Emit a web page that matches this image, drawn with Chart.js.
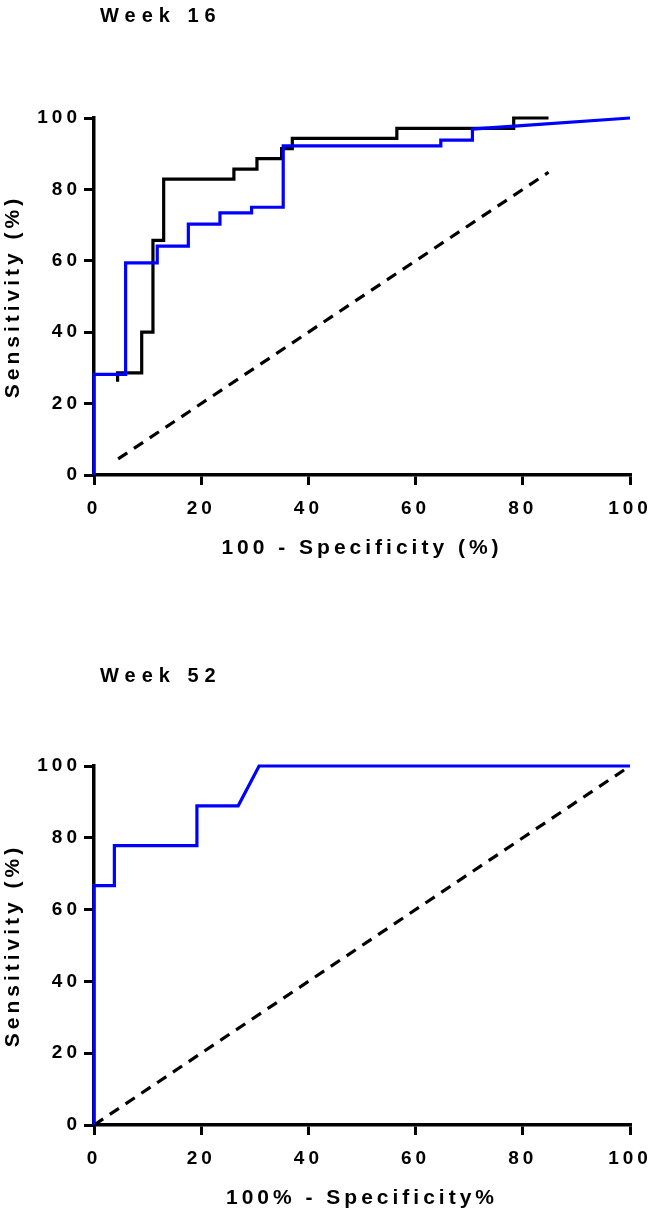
<!DOCTYPE html>
<html>
<head>
<meta charset="utf-8">
<script src="https://cdn.jsdelivr.net/npm/chart.js@4.4.1/dist/chart.umd.min.js"></script>
<style>
  html, body { margin: 0; padding: 0; background: #ffffff; }
  .wrap { position: absolute; left: 0; width: 655px; height: 607px; }
  canvas { display: block; }
</style>
</head>
<body>
<div class="wrap" style="top:0"><canvas id="c1" width="655" height="607"></canvas></div>
<div class="wrap" style="top:607px"><canvas id="c2" width="655" height="607"></canvas></div>
<script>
// ---- Data ----
const titles = ["Week 16", "Week 52"];
const xTitles = ["100 - Specificity (%)", "100% - Specificity%"];
const yTitle = "Sensitivity (%)";
const tickValues = [0, 20, 40, 60, 80, 100];

// Week 16 — black ROC curve (corner points)
const w16BlackX = [4.4, 4.4, 8.9, 8.9, 11.0, 11.0, 13.0, 13.0, 26.1, 26.1, 30.4, 30.4, 35.0, 35.0, 37.0, 37.0, 56.5, 56.5, 78.3, 78.3, 84.8];
const w16BlackY = [26.1, 28.6, 28.6, 40.0, 40.0, 65.7, 65.7, 82.9, 82.9, 85.7, 85.7, 88.6, 88.6, 91.4, 91.4, 94.3, 94.3, 97.1, 97.1, 100, 100];
// Week 16 — blue ROC curve
const w16BlueX = [0, 0, 5.9, 5.9, 11.8, 11.8, 17.6, 17.6, 23.5, 23.5, 29.4, 29.4, 35.3, 35.3, 64.7, 64.7, 70.6, 70.6, 100];
const w16BlueY = [0, 28.2, 28.2, 59.4, 59.4, 64.1, 64.1, 70.3, 70.3, 73.4, 73.4, 75.0, 75.0, 92.2, 92.2, 93.8, 93.8, 96.9, 100];
// Week 16 — reference diagonal
const w16DiagX = [4.5, 84.8];
const w16DiagY = [4.5, 84.8];

// Week 52 — blue ROC curve
const w52BlueX = [0, 0, 3.8, 3.8, 19.2, 19.2, 26.9, 30.8, 100];
const w52BlueY = [0, 66.7, 66.7, 77.8, 77.8, 88.9, 88.9, 100, 100];
// Week 52 — reference diagonal
const w52DiagX = [0, 100];
const w52DiagY = [0, 100];

const FONT = "'Liberation Sans', Arial, 'DejaVu Sans', sans-serif";

function pts(xs, ys) { return xs.map((x, i) => ({ x: x, y: ys[i] })); }

function spacingPlugin(title) {
  return {
    id: 'spacingTitle',
    beforeDraw(chart) { chart.ctx.letterSpacing = '4px'; },
    afterDraw(chart) {
      const ctx = chart.ctx;
      ctx.save();
      ctx.letterSpacing = '6px';
      ctx.font = "bold 20px " + FONT;
      ctx.fillStyle = '#000';
      ctx.textAlign = 'left';
      ctx.textBaseline = 'middle';
      ctx.fillText(title.text, title.x, title.y);
      ctx.restore();
    }
  };
}

function makeChart(id, datasets, cfg) {
  const black = '#000000';
  new Chart(document.getElementById(id), {
    type: 'scatter',
    data: { datasets: datasets },
    options: {
      responsive: false,
      animation: false,
      devicePixelRatio: 1,
      layout: { padding: { top: cfg.top, right: 25, left: 0, bottom: 0 } },
      plugins: { legend: { display: false }, tooltip: { enabled: false } },
      elements: { point: { radius: 0 } },
      scales: {
        x: {
          type: 'linear', min: 0, max: 100,
          afterBuildTicks(s) { s.ticks = tickValues.map(v => ({ value: v })); },
          afterFit(s) { s.height = cfg.xh; s.paddingLeft = 0; s.paddingRight = 0; },
          border: { display: true, color: black, width: 3.5 },
          grid: { display: true, drawOnChartArea: false, drawTicks: true, tickLength: 10, tickWidth: 3, tickColor: black, lineWidth: 3, color: black },
          ticks: { color: black, padding: 12, font: { family: FONT, size: 19, weight: 'bold' }, maxRotation: 0 },
          title: { display: true, text: cfg.xTitle, color: black, font: { family: FONT, size: 21, weight: 'bold' }, padding: { top: 0, bottom: cfg.xtp } }
        },
        y: {
          type: 'linear', min: 0, max: 100,
          afterBuildTicks(s) { s.ticks = tickValues.map(v => ({ value: v })); },
          afterFit(s) { s.width = 94; s.paddingTop = 0; s.paddingBottom = 0; },
          border: { display: true, color: black, width: 3.5 },
          grid: { display: true, drawOnChartArea: false, drawTicks: true, tickLength: 10, tickWidth: 3, tickColor: black, lineWidth: 3, color: black },
          ticks: { color: black, padding: 3, font: { family: FONT, size: 19, weight: 'bold' } },
          title: { display: true, text: yTitle, color: black, font: { family: FONT, size: 21, weight: 'bold' }, padding: { top: 1, bottom: 0 } }
        }
      }
    },
    plugins: [spacingPlugin(cfg.title)]
  });
}

const dashed = (xs, ys) => ({
  data: pts(xs, ys), showLine: true, borderColor: '#000', borderWidth: 3.2,
  borderDash: [11, 8], pointRadius: 0, fill: false, tension: 0, clip: 6, order: 3
});
const solid = (xs, ys, color, order) => ({
  data: pts(xs, ys), showLine: true, borderColor: color, borderWidth: 3.2,
  pointRadius: 0, fill: false, tension: 0, clip: 6, order: order,
  borderJoinStyle: 'miter', borderCapStyle: 'butt'
});

makeChart('c1', [
  solid(w16BlueX, w16BlueY, '#0000ff', 1),
  solid(w16BlackX, w16BlackY, '#000000', 2),
  dashed(w16DiagX, w16DiagY)
], { top: 118, xh: 132, xTitle: xTitles[0], xtp: 46, title: { text: titles[0], x: 100, y: 16 } });

makeChart('c2', [
  solid(w52BlueX, w52BlueY, '#0000ff', 1),
  dashed(w52DiagX, w52DiagY)
], { top: 159, xh: 89, xTitle: xTitles[1], xtp: 3, title: { text: titles[1], x: 100, y: 69 } });
</script>
</body>
</html>
